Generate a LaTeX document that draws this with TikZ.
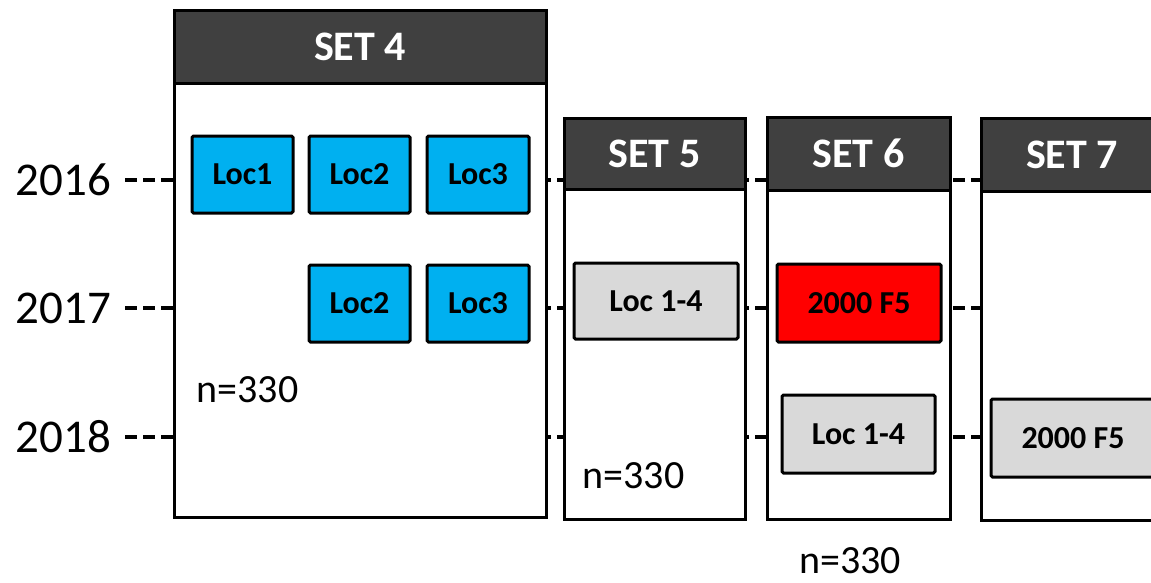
\documentclass[tikz,border=0pt]{standalone}
\usepackage{fontspec}
\setmainfont{Carlito}
\definecolor{hdr}{HTML}{404040}
\definecolor{locblue}{HTML}{00B0F0}
\definecolor{locred}{HTML}{FF0000}
\definecolor{locgray}{HTML}{D9D9D9}
\begin{document}
\begin{tikzpicture}[x=1pt,y=-1pt,
  setbody/.style={draw=black,line width=3pt,fill=white,anchor=north west,inner sep=0pt,outer sep=0pt},
  sethead/.style={draw=black,line width=3pt,fill=hdr,anchor=north west,inner sep=0pt,outer sep=0pt,text=white,font=\fontsize{42}{42}\selectfont\bfseries},
  locbox/.style={draw=black,line width=3pt,rounded corners=1.5pt,inner sep=0pt,outer sep=0pt,font=\fontsize{32}{32}\selectfont\bfseries},
  year/.style={anchor=east,inner sep=0pt,font=\fontsize{47}{47}\selectfont},
  count/.style={inner sep=0pt,font=\fontsize{40}{40}\selectfont},
  yeardash/.style={line width=3.5pt,dash pattern=on 12pt off 6pt}]

\useasboundingbox (0,0) rectangle (1151,582);
\clip (0,0) rectangle (1151,582);

% year labels
\node[year] (y16) at (111,180) {2016};
\node[year] (y17) at (111,308) {2017};
\node[year] (y18) at (111,437) {2018};
\coordinate (rim) at (1151,0);

% dashed year lines (behind the sets)
\draw[yeardash] ([xshift=14pt]y16.east) -- (y16.east -| rim);
\draw[yeardash] ([xshift=14pt]y17.east) -- (y17.east -| rim);
\draw[yeardash] ([xshift=14pt]y18.east) -- (y18.east -| rim);

% sets
\node[setbody,minimum width=372pt,minimum height=507pt] (s4) at (174,10) {};
\node[sethead,minimum width=372pt,minimum height=73pt] (h4) at (174,10) {SET 4};

\node[setbody,minimum width=181pt,minimum height=401pt] (s5) at (564,118) {};
\node[sethead,minimum width=181pt,minimum height=71pt] (h5) at (564,118) {SET 5};

\node[setbody,minimum width=183pt,minimum height=402pt] (s6) at (767,117) {};
\node[sethead,minimum width=183pt,minimum height=73pt] (h6) at (767,117) {SET 6};

\node[setbody,minimum width=182pt,minimum height=402pt] (s7) at (981,118) {};
\node[sethead,minimum width=182pt,minimum height=73pt] (h7) at (981,118) {SET 7};

% location boxes
\node[locbox,fill=locblue,minimum width=101pt,minimum height=77pt] (a1) at (242.5,174.5) {Loc1};
\node[locbox,fill=locblue,minimum width=101pt,minimum height=77pt] (a2) at (359.5,174.5) {Loc2};
\node[locbox,fill=locblue,minimum width=102pt,minimum height=77pt] (a3) at (478,174.5) {Loc3};
\node[locbox,fill=locblue,minimum width=101pt,minimum height=77pt] (b2) at (359.5,303.5) {Loc2};
\node[locbox,fill=locblue,minimum width=102pt,minimum height=77pt] (b3) at (478,303.5) {Loc3};

\node[locbox,fill=locgray,minimum width=164pt,minimum height=76pt] (c5) at (656,301) {Loc 1-4};
\node[locbox,fill=locred,minimum width=164pt,minimum height=78pt] (c6) at (859,303) {2000 F5};
\node[locbox,fill=locgray,minimum width=153pt,minimum height=78pt] (d6) at (858.5,434) {Loc 1-4};
\node[locbox,fill=locgray,minimum width=164pt,minimum height=78pt] (d7) at (1073,438) {2000 F5};

% counts
\node[count] (n4) at (247.5,389.5) {n=330};
\node[count] (n5) at (633.5,475.5) {n=330};
\node[count] (n6) at (850,561) {n=330};
\end{tikzpicture}
\end{document}
